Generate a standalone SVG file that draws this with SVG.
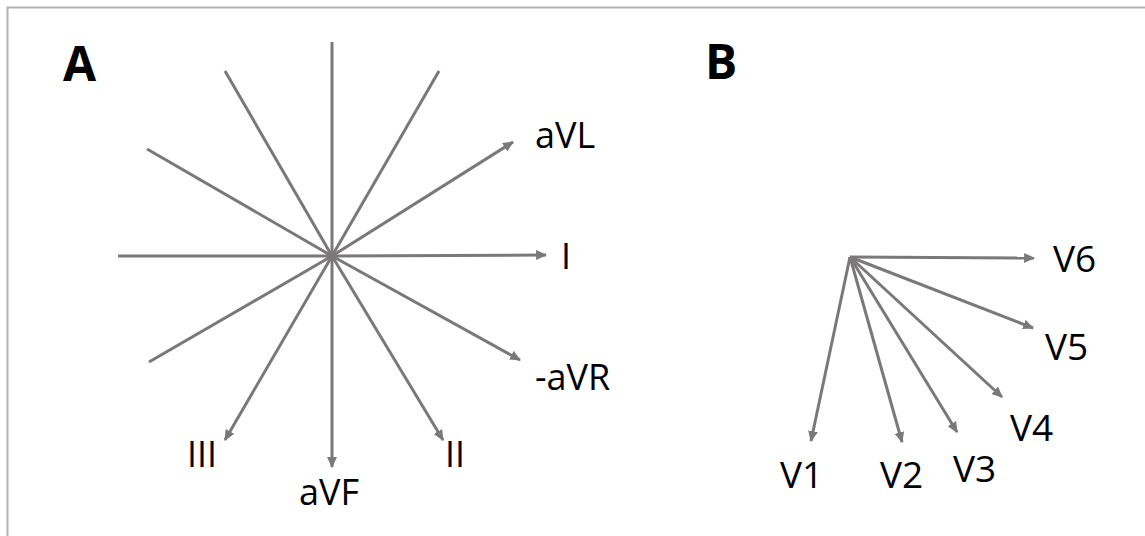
<svg xmlns="http://www.w3.org/2000/svg" width="1145" height="536" viewBox="0 0 1145 536">
<defs>
<style>
.ax{stroke:#7a7878;stroke-width:3;fill:none;stroke-linecap:butt}
.arr{marker-end:url(#ah)}
.lbl{font-family:"Open Sans","Liberation Sans",sans-serif;font-size:36px;fill:#000}
.lblb{font-family:"Open Sans","Liberation Sans",sans-serif;font-size:37px;fill:#000}
.ttl{font-family:"Open Sans","Liberation Sans",sans-serif;font-size:48px;font-weight:bold;fill:#000}
</style>
<marker id="ah" viewBox="0 0 10 9" refX="9" refY="4.5" markerWidth="11" markerHeight="10" markerUnits="userSpaceOnUse" orient="auto">
<path d="M0,0 L10,4.5 L0,9 z" fill="#7a7878"/>
</marker>
</defs>
<rect width="1145" height="536" fill="#fff"/>
<path d="M7.5,536 V7.5 H1145" fill="none" stroke="#b4b4b4" stroke-width="2"/>
<g id="connectors">
<g id="hexaxial">
<line class="ax" x1="332" y1="256" x2="332" y2="42"/>
<line class="ax" x1="332" y1="256" x2="118" y2="256"/>
<line class="ax" x1="332" y1="256" x2="147" y2="149"/>
<line class="ax" x1="332" y1="256" x2="225" y2="71"/>
<line class="ax" x1="332" y1="256" x2="439" y2="71"/>
<line class="ax" x1="332" y1="256" x2="149" y2="362"/>
<line class="ax arr" x1="332" y1="256" x2="546" y2="255"/>
<line class="ax arr" x1="332" y1="256" x2="513" y2="142"/>
<line class="ax arr" x1="332" y1="256" x2="520" y2="360"/>
<line class="ax arr" x1="332" y1="256" x2="443" y2="440"/>
<line class="ax arr" x1="332" y1="256" x2="225" y2="440"/>
<line class="ax arr" x1="332" y1="256" x2="332" y2="467"/>
</g>
<g id="precordial">
<line class="ax arr" x1="850" y1="257" x2="1034" y2="258"/>
<line class="ax arr" x1="850" y1="257" x2="1033" y2="328"/>
<line class="ax arr" x1="850" y1="257" x2="1002" y2="397"/>
<line class="ax arr" x1="850" y1="257" x2="957" y2="432"/>
<line class="ax arr" x1="850" y1="257" x2="902" y2="442"/>
<line class="ax arr" x1="850" y1="257" x2="811" y2="441"/>
</g>
</g>
<g id="title-A"><text class="ttl" x="63" y="81">A</text></g>
<g id="title-B"><text class="ttl" x="705" y="79">B</text></g>
<g id="lead-aVL"><text class="lbl" x="535" y="148">aVL</text></g>
<g id="lead-I"><text class="lbl" x="561" y="269">I</text></g>
<g id="lead-maVR"><text class="lbl" x="535" y="390">-aVR</text></g>
<g id="lead-III"><text class="lbl" x="187" y="467">III</text></g>
<g id="lead-aVF"><text class="lbl" x="299" y="505">aVF</text></g>
<g id="lead-II"><text class="lbl" x="445" y="467">II</text></g>
<g id="lead-V6"><text class="lblb" x="1053" y="272">V6</text></g>
<g id="lead-V5"><text class="lblb" x="1045" y="360">V5</text></g>
<g id="lead-V4"><text class="lblb" x="1010" y="441">V4</text></g>
<g id="lead-V3"><text class="lblb" x="953" y="482">V3</text></g>
<g id="lead-V2"><text class="lblb" x="880" y="488">V2</text></g>
<g id="lead-V1"><text class="lblb" x="780" y="488">V1</text></g>
</svg>
